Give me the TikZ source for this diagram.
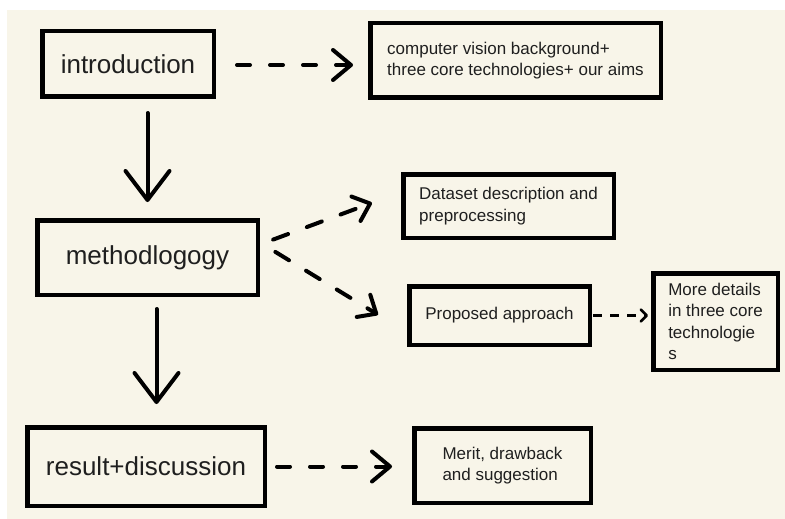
\documentclass[tikz,border=0pt]{standalone}
\usepackage{fontspec}
\setmainfont{Liberation Sans}
\usetikzlibrary{arrows.meta}
\definecolor{paper}{HTML}{F8F5E9}

\begin{document}
\begin{tikzpicture}[x=1pt,y=-1pt,
    box/.style={draw, line width=4.5pt, inner sep=0pt, align=left, text=black!88},
    big/.style={font=\fontsize{26}{30}\selectfont},
    small/.style={font=\fontsize{17}{21.5}\selectfont},
    downarrow/.style={line width=4pt, line cap=round, -{Straight Barb[round,length=29pt,width=44pt]}},
    dasharrow/.style={line width=4pt, line cap=round, dash pattern=on 13pt off 20pt, -{Straight Barb[round,length=18pt,width=30pt]}},
    slantarrow/.style={line width=4pt, line cap=round, dash pattern=on 16pt off 20pt, -{Straight Barb[round,length=15pt,width=26pt]}},
    thinarrow/.style={line width=2.5pt, dash pattern=on 9pt off 8pt, -{Straight Barb[round,length=6pt,width=12pt]}}]

    \fill[paper] (7,10) rectangle (785,519);
    \useasboundingbox (0,0) rectangle (785,519);

    \node[box, big, minimum width=171.5pt, minimum height=65.5pt] (intro) at (128,64) {introduction};
    \node[box, small, minimum width=290.5pt, minimum height=74.5pt] (cv) at (515.5,60.5)
        {computer vision background+\\three core technologies+ our aims};

    \node[box, big, minimum width=220.5pt, minimum height=74.5pt] (meth) at (147.5,257.5) {methodlogogy};
    \node[box, small, minimum width=210.5pt, minimum height=63.5pt] (data) at (508.5,206)
        {Dataset description and\\preprocessing};
    \node[box, small, minimum width=180.5pt, minimum height=58.5pt] (prop) at (499.5,315.5) {Proposed approach};
    \node[box, small, minimum width=124.5pt, minimum height=96.5pt] (more) at (715.5,321.5)
        {More details\\in three core\\technologie\\s};

    \node[box, big, minimum width=237.5pt, minimum height=78.5pt] (result) at (146,466.5) {result+discussion};
    \node[box, small, minimum width=176.5pt, minimum height=74.5pt] (merit) at (502.5,465.5)
        {Merit, drawback\\and suggestion};

    \draw[downarrow, shorten <=14pt, shorten >=16pt] (intro.south -| meth.north) -- (meth.north);
    \draw[downarrow, shorten <=12pt, shorten >=21pt] ([xshift=9pt]meth.south) -- ([xshift=9pt]meth.south |- result.north);

    \draw[dasharrow, shorten <=21pt, shorten >=15pt] ([yshift=-1pt]intro.east) -- ([yshift=-1pt]intro.east -| cv.west);
    \draw[slantarrow, shorten <=14pt, shorten >=31pt] ([yshift=13pt]meth.east) -- ([yshift=14pt]data.west);
    \draw[slantarrow, shorten <=18pt, shorten >=34pt] ([yshift=15pt]meth.east) -- ([yshift=-17pt]prop.west);
    \draw[thinarrow, shorten <=1pt, shorten >=3pt] (prop.east) -- (prop.east -| more.west);
    \draw[dasharrow, shorten <=10pt, shorten >=20pt] (result.east) -- (result.east -| merit.west);

\end{tikzpicture}
\end{document}
